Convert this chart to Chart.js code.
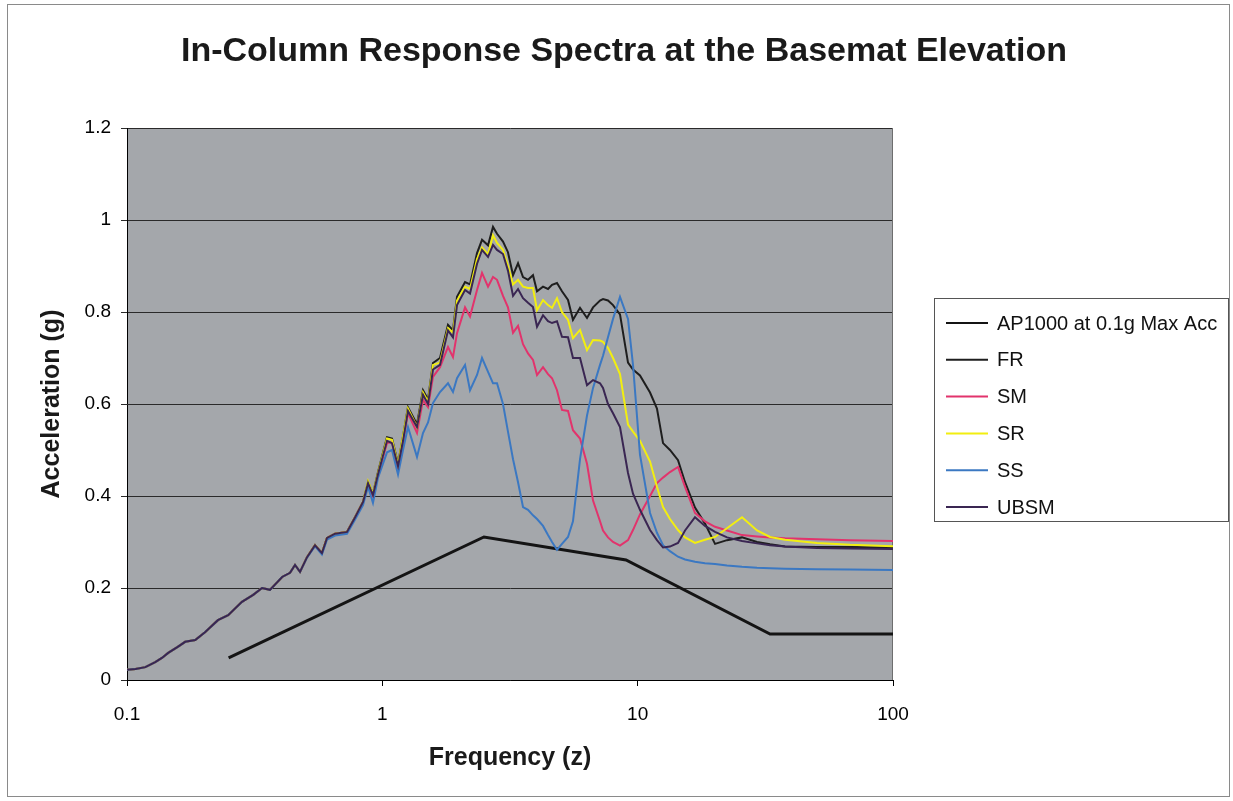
<!DOCTYPE html>
<html>
<head>
<meta charset="utf-8">
<script src="https://cdn.jsdelivr.net/npm/chart.js@4"></script>
<style>
html, body { margin: 0; padding: 0; background: #fff; }
#wrap { width: 1233px; height: 801px; position: relative; }
</style>
</head>
<body>
<div id="wrap"><canvas id="spectraChart"></canvas></div>
<script>
// frequency grid (Hz) shared by the five column spectra
const freq = [0.1, 0.108, 0.118, 0.129, 0.137, 0.145, 0.158, 0.169, 0.185, 0.202,
  0.227, 0.249, 0.282, 0.312, 0.338, 0.363, 0.405, 0.435, 0.455, 0.476,
  0.507, 0.545, 0.58, 0.607, 0.653, 0.727, 0.782, 0.84, 0.879, 0.919,
  0.962, 1.043, 1.091, 1.152, 1.205, 1.26, 1.367, 1.443, 1.51, 1.579,
  1.682, 1.808, 1.891, 1.961, 2.108, 2.205, 2.349, 2.457, 2.594, 2.713,
  2.813, 2.969, 3.105, 3.25, 3.4, 3.556, 3.72, 3.891, 4.035, 4.259,
  4.455, 4.62, 4.831, 5.053, 5.336, 5.58, 5.946, 6.333, 6.687, 7.121,
  7.316, 7.652, 8.007, 8.527, 9.166, 9.588, 10.21, 11.18, 11.9, 12.57,
  13.38, 14.39, 15.33, 16.77, 18.35, 20.09, 22.38, 25.63, 29.34, 33,
  37.77, 50.4, 67.9, 100];

// low end, all soil cases sit on top of each other
const lowCommon = [0.022, 0.024, 0.028, 0.039, 0.048, 0.059, 0.072, 0.083, 0.087, 0.104,
  0.13, 0.141, 0.17, 0.185, 0.2, 0.196, 0.224, 0.233, 0.25, 0.235,
  0.267, 0.293, 0.276, 0.309, 0.318, 0.322, 0.354, 0.387];

const frVals = lowCommon.concat([0.43, 0.405, 0.452, 0.528, 0.525, 0.47, 0.53, 0.593, 0.556, 0.63, 0.61,
  0.689, 0.70, 0.772, 0.76, 0.833, 0.865, 0.86, 0.928, 0.957, 0.945,
  0.985, 0.97, 0.953, 0.93, 0.88, 0.906, 0.876, 0.87, 0.88, 0.845,
  0.855, 0.85, 0.859, 0.863, 0.845, 0.826, 0.783, 0.809, 0.787, 0.81,
  0.825, 0.828, 0.825, 0.815, 0.795, 0.69, 0.675, 0.662, 0.625, 0.59,
  0.515, 0.50, 0.478, 0.43, 0.375, 0.34, 0.296, 0.304, 0.31, 0.30,
  0.295, 0.29, 0.289, 0.289, 0.288]);

const smVals = lowCommon.concat([0.425, 0.40, 0.447, 0.515, 0.517, 0.463, 0.52, 0.58, 0.537, 0.609, 0.593,
  0.659, 0.68, 0.724, 0.702, 0.754, 0.81, 0.79, 0.848, 0.885, 0.855,
  0.876, 0.87, 0.835, 0.81, 0.755, 0.77, 0.73, 0.71, 0.696, 0.663,
  0.68, 0.665, 0.656, 0.63, 0.587, 0.585, 0.543, 0.525, 0.47, 0.39,
  0.345, 0.325, 0.31, 0.30, 0.292, 0.304, 0.326, 0.36, 0.40, 0.428,
  0.44, 0.452, 0.463, 0.42, 0.363, 0.345, 0.333, 0.325, 0.315, 0.312,
  0.31, 0.308, 0.306, 0.304, 0.302]);

const srVals = lowCommon.concat([0.432, 0.405, 0.45, 0.525, 0.522, 0.468, 0.53, 0.59, 0.55, 0.625, 0.605,
  0.685, 0.69, 0.765, 0.755, 0.825, 0.855, 0.85, 0.915, 0.94, 0.925,
  0.967, 0.95, 0.935, 0.90, 0.86, 0.87, 0.855, 0.852, 0.852, 0.804,
  0.826, 0.815, 0.809, 0.83, 0.80, 0.783, 0.743, 0.761, 0.717, 0.739,
  0.738, 0.735, 0.722, 0.70, 0.665, 0.555, 0.54, 0.52, 0.475, 0.42,
  0.376, 0.35, 0.326, 0.31, 0.298, 0.305, 0.311, 0.33, 0.354, 0.325,
  0.311, 0.305, 0.298, 0.294, 0.291]);

const ssVals = [0.022, 0.024, 0.028, 0.039, 0.048, 0.059, 0.072, 0.083, 0.087, 0.104,
  0.13, 0.141, 0.17, 0.185, 0.2, 0.196, 0.224, 0.233, 0.25, 0.235,
  0.266, 0.291, 0.273, 0.305, 0.314, 0.318, 0.349, 0.38,
  0.42, 0.385, 0.44, 0.495, 0.50, 0.447, 0.50, 0.55, 0.485, 0.537, 0.56,
  0.602, 0.626, 0.645, 0.626, 0.656, 0.685, 0.63, 0.663, 0.70, 0.67,
  0.645, 0.645, 0.60, 0.54, 0.48, 0.43, 0.376, 0.37, 0.358, 0.35,
  0.335, 0.315, 0.30, 0.283, 0.296, 0.311, 0.345, 0.48, 0.575, 0.635,
  0.685, 0.705, 0.745, 0.785, 0.833, 0.785, 0.685, 0.49, 0.363, 0.32,
  0.293, 0.28, 0.268, 0.262, 0.257, 0.254, 0.252, 0.249, 0.246, 0.244,
  0.243, 0.242, 0.241, 0.24, 0.239];

const ubsmVals = lowCommon.concat([0.428, 0.402, 0.448, 0.52, 0.515, 0.465, 0.52, 0.585, 0.55, 0.62, 0.60,
  0.675, 0.685, 0.76, 0.745, 0.815, 0.848, 0.84, 0.905, 0.935, 0.92,
  0.946, 0.935, 0.926, 0.89, 0.835, 0.85, 0.83, 0.82, 0.811, 0.768,
  0.793, 0.78, 0.776, 0.78, 0.746, 0.745, 0.70, 0.70, 0.641, 0.652,
  0.645, 0.635, 0.60, 0.58, 0.55, 0.45, 0.405, 0.37, 0.326, 0.304,
  0.288, 0.29, 0.298, 0.325, 0.354, 0.335, 0.322, 0.31, 0.302, 0.297,
  0.293, 0.29, 0.287, 0.286, 0.285]);

// AP1000 design spectrum corners
const apFreq = [0.25, 2.5, 9, 33, 100];
const apVals = [0.048, 0.311, 0.261, 0.1, 0.1];

const xTicks = [0.1, 1, 10, 100];
const yTicks = [0, 0.2, 0.4, 0.6, 0.8, 1, 1.2];

const seriesNames = ['AP1000 at 0.1g Max Acc', 'FR', 'SM', 'SR', 'SS', 'UBSM'];
const seriesColors = ['#141414', '#1e1e1e', '#e2336c', '#f2ee10', '#3b78c2', '#3a2652'];

const FONT = "'Liberation Sans', Arial, sans-serif";

function pts(xs, ys) {
    return ys.map((v, i) => ({ x: xs[i], y: v }));
}

const allVals = [null, frVals, smVals, srVals, ssVals, ubsmVals];
const datasets = seriesNames.map((name, i) => ({
    label: name,
    data: i === 0 ? pts(apFreq, apVals) : pts(freq, allVals[i]),
    borderColor: seriesColors[i],
    borderWidth: i === 0 ? 3 : 2,
    pointRadius: 0,
    tension: 0,
    fill: false,
    order: 5 - i   // later series on top, like the original
}));

// background, plot fill, title and boxed legend
const decor = {
    id: 'decor',
    beforeDraw(chart) {
        const { ctx, chartArea: a } = chart;
        ctx.save();
        ctx.fillStyle = '#fff';
        ctx.fillRect(0, 0, chart.width, chart.height);
        ctx.strokeStyle = '#8a8a8a';
        ctx.lineWidth = 1;
        ctx.strokeRect(7.5, 4.5, chart.width - 11, chart.height - 9);
        ctx.fillStyle = '#a4a7ab';
        ctx.fillRect(a.left, a.top, a.right - a.left, a.bottom - a.top);
        ctx.restore();
    },
    beforeDatasetsDraw(chart) {
        const { ctx, chartArea: a } = chart;
        ctx.save();
        ctx.strokeStyle = '#6e6e6e';
        ctx.lineWidth = 1;
        ctx.beginPath();
        ctx.moveTo(a.right - 0.5, a.top);
        ctx.lineTo(a.right - 0.5, a.bottom);
        ctx.stroke();
        ctx.restore();
    },
    afterDraw(chart) {
        const ctx = chart.ctx;
        ctx.save();
        ctx.fillStyle = '#1a1a1a';
        ctx.font = 'bold 34px ' + FONT;
        ctx.textAlign = 'center';
        ctx.textBaseline = 'alphabetic';
        ctx.fillText('In-Column Response Spectra at the Basemat Elevation', 624, 61);

        // legend
        ctx.strokeStyle = '#555';
        ctx.lineWidth = 1;
        ctx.strokeRect(934.5, 298.5, 294, 223);
        ctx.font = '20px ' + FONT;
        ctx.textAlign = 'left';
        ctx.textBaseline = 'middle';
        chart.data.datasets.forEach((ds, i) => {
            const y = 323 + i * 36.8;
            ctx.strokeStyle = ds.borderColor;
            ctx.lineWidth = 2;
            ctx.beginPath();
            ctx.moveTo(946, y);
            ctx.lineTo(988, y);
            ctx.stroke();
            ctx.fillStyle = '#111';
            ctx.fillText(ds.label, 997, y + 1);
        });
        ctx.restore();
    }
};

const ctx = document.getElementById('spectraChart').getContext('2d');
const spectraChart = new Chart(ctx, {
    type: 'line',
    data: { datasets: datasets },
    options: {
        responsive: true, maintainAspectRatio: false,
        animation: false, devicePixelRatio: 1,
        layout: { padding: { top: 128, right: 340, left: 0, bottom: 0 } },
        plugins: { legend: { display: false }, tooltip: { enabled: false } },
        scales: {
            x: {
                type: 'logarithmic', min: 0.1, max: 100,
                afterBuildTicks: s => { s.ticks = xTicks.map(v => ({ value: v })); },
                afterFit: s => { s.height = 121; },
                grid: { drawOnChartArea: false, drawTicks: true, tickLength: 6, color: '#000' },
                border: { display: true, color: '#000', width: 1 },
                ticks: { color: '#000', font: { family: FONT, size: 19 }, padding: 17,
                    maxRotation: 0, autoSkip: false, callback: v => String(v) },
                title: { display: true, text: 'Frequency (z)', color: '#1a1a1a',
                    font: { family: FONT, size: 25, weight: 'bold' }, padding: { top: 0, bottom: 28 } }
            },
            y: {
                min: 0, max: 1.2,
                afterBuildTicks: s => { s.ticks = yTicks.map(v => ({ value: v })); },
                afterFit: s => { s.width = 127; },
                grid: { color: '#2a2a2a', lineWidth: 1, tickLength: 6 },
                border: { display: true, color: '#000', width: 1 },
                ticks: { color: '#000', font: { family: FONT, size: 19 }, padding: 10,
                    callback: v => String(Number(v.toFixed(1))) },
                title: { display: true, text: 'Acceleration (g)', color: '#1a1a1a',
                    font: { family: FONT, size: 25, weight: 'bold' }, padding: { top: 37, bottom: 0 } }
            }
        }
    },
    plugins: [decor]
});
</script>
</body>
</html>
